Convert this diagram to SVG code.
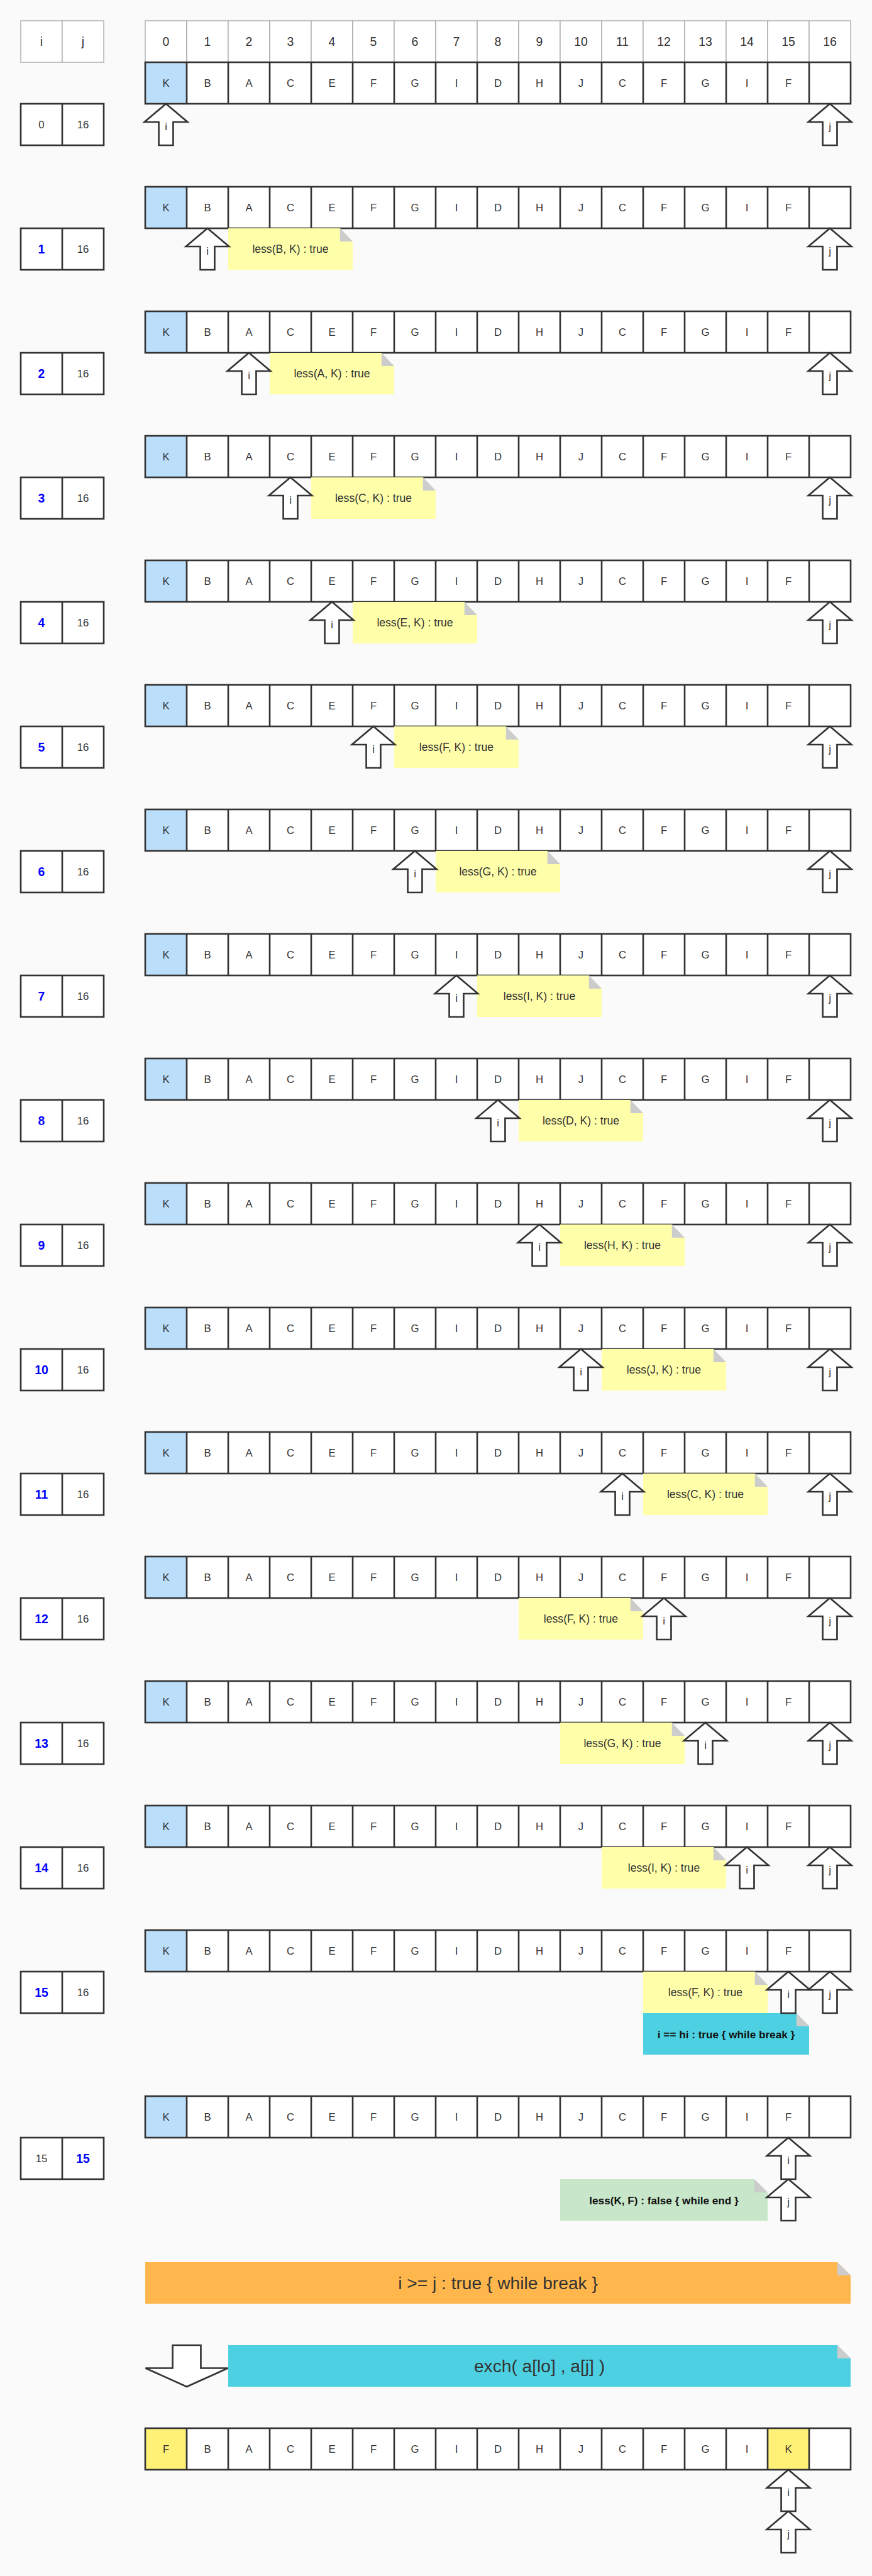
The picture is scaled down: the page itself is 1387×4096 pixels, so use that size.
<svg xmlns="http://www.w3.org/2000/svg" xmlns:xlink="http://www.w3.org/1999/xlink" width="1387" height="4096" viewBox="0 0 1387 4096">
<style>
text{font-family:"Liberation Sans",Arial,sans-serif;fill:#333;text-anchor:middle}
.c{font-size:19px}
.h{font-size:22px}
.n{font-size:20px}
.bn{font-size:22px;fill:#0000ff;font-weight:bold}
.k{font-size:19.5px;fill:#111;font-weight:bold}
.big{font-size:32px}
.cell{fill:#fff}
.kc{fill:#bbdefb}
.yc{fill:#fff176}
.hdr{fill:#fff;stroke:#a8a8a8;stroke-width:1.5}
</style>
<defs>
<g id="gl" fill="none" stroke="#333" stroke-width="3"><rect x="0" y="0" width="1275" height="75"/><path d="M75 0V75M150 0V75M225 0V75M300 0V75M375 0V75M450 0V75M525 0V75M600 0V75M675 0V75M750 0V75M825 0V75M900 0V75M975 0V75M1050 0V75M1125 0V75M1200 0V75"/></g>
<g id="ij" stroke="#333" stroke-width="3"><rect x="0" y="0" width="150" height="75" fill="#fff"/><path d="M75 0V75"/></g>
<path id="up" d="M0 0L39 33H13V75H-13V33H-39Z" fill="#fff" stroke="#333" stroke-width="3"/>
<g id="ynote"><path d="M0 0H202L225 24V75H0Z" fill="#ffffaa"/><path d="M202 0V24H225Z" fill="#cccccc"/></g>
</defs>
<rect x="0" y="0" width="1387" height="4096" fill="#fafafa"/>
<g transform="scale(0.88)">
<g id="header">
<rect class="hdr" x="37.5" y="37.5" width="75" height="75"/><rect class="hdr" x="112.5" y="37.5" width="75" height="75"/>
<text class="h" x="75" y="83">i</text><text class="h" x="150" y="83">j</text>
<g class="hdr"><rect x="262.5" y="37.5" width="75" height="75"/><rect x="337.5" y="37.5" width="75" height="75"/><rect x="412.5" y="37.5" width="75" height="75"/><rect x="487.5" y="37.5" width="75" height="75"/><rect x="562.5" y="37.5" width="75" height="75"/><rect x="637.5" y="37.5" width="75" height="75"/><rect x="712.5" y="37.5" width="75" height="75"/><rect x="787.5" y="37.5" width="75" height="75"/><rect x="862.5" y="37.5" width="75" height="75"/><rect x="937.5" y="37.5" width="75" height="75"/><rect x="1012.5" y="37.5" width="75" height="75"/><rect x="1087.5" y="37.5" width="75" height="75"/><rect x="1162.5" y="37.5" width="75" height="75"/><rect x="1237.5" y="37.5" width="75" height="75"/><rect x="1312.5" y="37.5" width="75" height="75"/><rect x="1387.5" y="37.5" width="75" height="75"/><rect x="1462.5" y="37.5" width="75" height="75"/></g>
<text class="h" y="83"><tspan x="300">0</tspan><tspan x="375">1</tspan><tspan x="450">2</tspan><tspan x="525">3</tspan><tspan x="600">4</tspan><tspan x="675">5</tspan><tspan x="750">6</tspan><tspan x="825">7</tspan><tspan x="900">8</tspan><tspan x="975">9</tspan><tspan x="1050">10</tspan><tspan x="1125">11</tspan><tspan x="1200">12</tspan><tspan x="1275">13</tspan><tspan x="1350">14</tspan><tspan x="1425">15</tspan><tspan x="1500">16</tspan></text>
</g>

<g id="row-0">
<rect class="cell" x="262.5" y="112.5" width="1275" height="75"/><rect class="kc" x="262.5" y="112.5" width="75" height="75"/><use xlink:href="#gl" x="262.5" y="112.5"/>
<text class="c" y="156.5"><tspan x="300">K</tspan><tspan x="375">B</tspan><tspan x="450">A</tspan><tspan x="525">C</tspan><tspan x="600">E</tspan><tspan x="675">F</tspan><tspan x="750">G</tspan><tspan x="825">I</tspan><tspan x="900">D</tspan><tspan x="975">H</tspan><tspan x="1050">J</tspan><tspan x="1125">C</tspan><tspan x="1200">F</tspan><tspan x="1275">G</tspan><tspan x="1350">I</tspan><tspan x="1425">F</tspan></text>
<use xlink:href="#ij" x="37.5" y="187.5"/><text class="c" x="75" y="231.8">0</text><text class="c" x="150" y="231.8">16</text>
</g>

<g id="row-1">
<rect class="cell" x="262.5" y="337.5" width="1275" height="75"/><rect class="kc" x="262.5" y="337.5" width="75" height="75"/><use xlink:href="#gl" x="262.5" y="337.5"/>
<text class="c" y="381.5"><tspan x="300">K</tspan><tspan x="375">B</tspan><tspan x="450">A</tspan><tspan x="525">C</tspan><tspan x="600">E</tspan><tspan x="675">F</tspan><tspan x="750">G</tspan><tspan x="825">I</tspan><tspan x="900">D</tspan><tspan x="975">H</tspan><tspan x="1050">J</tspan><tspan x="1125">C</tspan><tspan x="1200">F</tspan><tspan x="1275">G</tspan><tspan x="1350">I</tspan><tspan x="1425">F</tspan></text>
<use xlink:href="#ij" x="37.5" y="412.5"/><text class="bn" x="75" y="457.9">1</text><text class="c" x="150" y="456.8">16</text>
<use xlink:href="#ynote" x="412.5" y="412.5"/><text class="n" x="525" y="457">less(B, K) : true</text>
</g>

<g id="row-2">
<rect class="cell" x="262.5" y="562.5" width="1275" height="75"/><rect class="kc" x="262.5" y="562.5" width="75" height="75"/><use xlink:href="#gl" x="262.5" y="562.5"/>
<text class="c" y="606.5"><tspan x="300">K</tspan><tspan x="375">B</tspan><tspan x="450">A</tspan><tspan x="525">C</tspan><tspan x="600">E</tspan><tspan x="675">F</tspan><tspan x="750">G</tspan><tspan x="825">I</tspan><tspan x="900">D</tspan><tspan x="975">H</tspan><tspan x="1050">J</tspan><tspan x="1125">C</tspan><tspan x="1200">F</tspan><tspan x="1275">G</tspan><tspan x="1350">I</tspan><tspan x="1425">F</tspan></text>
<use xlink:href="#ij" x="37.5" y="637.5"/><text class="bn" x="75" y="682.9">2</text><text class="c" x="150" y="681.8">16</text>
<use xlink:href="#ynote" x="487.5" y="637.5"/><text class="n" x="600" y="682">less(A, K) : true</text>
</g>

<g id="row-3">
<rect class="cell" x="262.5" y="787.5" width="1275" height="75"/><rect class="kc" x="262.5" y="787.5" width="75" height="75"/><use xlink:href="#gl" x="262.5" y="787.5"/>
<text class="c" y="831.5"><tspan x="300">K</tspan><tspan x="375">B</tspan><tspan x="450">A</tspan><tspan x="525">C</tspan><tspan x="600">E</tspan><tspan x="675">F</tspan><tspan x="750">G</tspan><tspan x="825">I</tspan><tspan x="900">D</tspan><tspan x="975">H</tspan><tspan x="1050">J</tspan><tspan x="1125">C</tspan><tspan x="1200">F</tspan><tspan x="1275">G</tspan><tspan x="1350">I</tspan><tspan x="1425">F</tspan></text>
<use xlink:href="#ij" x="37.5" y="862.5"/><text class="bn" x="75" y="907.9">3</text><text class="c" x="150" y="906.8">16</text>
<use xlink:href="#ynote" x="562.5" y="862.5"/><text class="n" x="675" y="907">less(C, K) : true</text>
</g>

<g id="row-4">
<rect class="cell" x="262.5" y="1012.5" width="1275" height="75"/><rect class="kc" x="262.5" y="1012.5" width="75" height="75"/><use xlink:href="#gl" x="262.5" y="1012.5"/>
<text class="c" y="1056.5"><tspan x="300">K</tspan><tspan x="375">B</tspan><tspan x="450">A</tspan><tspan x="525">C</tspan><tspan x="600">E</tspan><tspan x="675">F</tspan><tspan x="750">G</tspan><tspan x="825">I</tspan><tspan x="900">D</tspan><tspan x="975">H</tspan><tspan x="1050">J</tspan><tspan x="1125">C</tspan><tspan x="1200">F</tspan><tspan x="1275">G</tspan><tspan x="1350">I</tspan><tspan x="1425">F</tspan></text>
<use xlink:href="#ij" x="37.5" y="1087.5"/><text class="bn" x="75" y="1132.9">4</text><text class="c" x="150" y="1131.8">16</text>
<use xlink:href="#ynote" x="637.5" y="1087.5"/><text class="n" x="750" y="1132">less(E, K) : true</text>
</g>

<g id="row-5">
<rect class="cell" x="262.5" y="1237.5" width="1275" height="75"/><rect class="kc" x="262.5" y="1237.5" width="75" height="75"/><use xlink:href="#gl" x="262.5" y="1237.5"/>
<text class="c" y="1281.5"><tspan x="300">K</tspan><tspan x="375">B</tspan><tspan x="450">A</tspan><tspan x="525">C</tspan><tspan x="600">E</tspan><tspan x="675">F</tspan><tspan x="750">G</tspan><tspan x="825">I</tspan><tspan x="900">D</tspan><tspan x="975">H</tspan><tspan x="1050">J</tspan><tspan x="1125">C</tspan><tspan x="1200">F</tspan><tspan x="1275">G</tspan><tspan x="1350">I</tspan><tspan x="1425">F</tspan></text>
<use xlink:href="#ij" x="37.5" y="1312.5"/><text class="bn" x="75" y="1357.9">5</text><text class="c" x="150" y="1356.8">16</text>
<use xlink:href="#ynote" x="712.5" y="1312.5"/><text class="n" x="825" y="1357">less(F, K) : true</text>
</g>

<g id="row-6">
<rect class="cell" x="262.5" y="1462.5" width="1275" height="75"/><rect class="kc" x="262.5" y="1462.5" width="75" height="75"/><use xlink:href="#gl" x="262.5" y="1462.5"/>
<text class="c" y="1506.5"><tspan x="300">K</tspan><tspan x="375">B</tspan><tspan x="450">A</tspan><tspan x="525">C</tspan><tspan x="600">E</tspan><tspan x="675">F</tspan><tspan x="750">G</tspan><tspan x="825">I</tspan><tspan x="900">D</tspan><tspan x="975">H</tspan><tspan x="1050">J</tspan><tspan x="1125">C</tspan><tspan x="1200">F</tspan><tspan x="1275">G</tspan><tspan x="1350">I</tspan><tspan x="1425">F</tspan></text>
<use xlink:href="#ij" x="37.5" y="1537.5"/><text class="bn" x="75" y="1582.9">6</text><text class="c" x="150" y="1581.8">16</text>
<use xlink:href="#ynote" x="787.5" y="1537.5"/><text class="n" x="900" y="1582">less(G, K) : true</text>
</g>

<g id="row-7">
<rect class="cell" x="262.5" y="1687.5" width="1275" height="75"/><rect class="kc" x="262.5" y="1687.5" width="75" height="75"/><use xlink:href="#gl" x="262.5" y="1687.5"/>
<text class="c" y="1731.5"><tspan x="300">K</tspan><tspan x="375">B</tspan><tspan x="450">A</tspan><tspan x="525">C</tspan><tspan x="600">E</tspan><tspan x="675">F</tspan><tspan x="750">G</tspan><tspan x="825">I</tspan><tspan x="900">D</tspan><tspan x="975">H</tspan><tspan x="1050">J</tspan><tspan x="1125">C</tspan><tspan x="1200">F</tspan><tspan x="1275">G</tspan><tspan x="1350">I</tspan><tspan x="1425">F</tspan></text>
<use xlink:href="#ij" x="37.5" y="1762.5"/><text class="bn" x="75" y="1807.9">7</text><text class="c" x="150" y="1806.8">16</text>
<use xlink:href="#ynote" x="862.5" y="1762.5"/><text class="n" x="975" y="1807">less(I, K) : true</text>
</g>

<g id="row-8">
<rect class="cell" x="262.5" y="1912.5" width="1275" height="75"/><rect class="kc" x="262.5" y="1912.5" width="75" height="75"/><use xlink:href="#gl" x="262.5" y="1912.5"/>
<text class="c" y="1956.5"><tspan x="300">K</tspan><tspan x="375">B</tspan><tspan x="450">A</tspan><tspan x="525">C</tspan><tspan x="600">E</tspan><tspan x="675">F</tspan><tspan x="750">G</tspan><tspan x="825">I</tspan><tspan x="900">D</tspan><tspan x="975">H</tspan><tspan x="1050">J</tspan><tspan x="1125">C</tspan><tspan x="1200">F</tspan><tspan x="1275">G</tspan><tspan x="1350">I</tspan><tspan x="1425">F</tspan></text>
<use xlink:href="#ij" x="37.5" y="1987.5"/><text class="bn" x="75" y="2032.9">8</text><text class="c" x="150" y="2031.8">16</text>
<use xlink:href="#ynote" x="937.5" y="1987.5"/><text class="n" x="1050" y="2032">less(D, K) : true</text>
</g>

<g id="row-9">
<rect class="cell" x="262.5" y="2137.5" width="1275" height="75"/><rect class="kc" x="262.5" y="2137.5" width="75" height="75"/><use xlink:href="#gl" x="262.5" y="2137.5"/>
<text class="c" y="2181.5"><tspan x="300">K</tspan><tspan x="375">B</tspan><tspan x="450">A</tspan><tspan x="525">C</tspan><tspan x="600">E</tspan><tspan x="675">F</tspan><tspan x="750">G</tspan><tspan x="825">I</tspan><tspan x="900">D</tspan><tspan x="975">H</tspan><tspan x="1050">J</tspan><tspan x="1125">C</tspan><tspan x="1200">F</tspan><tspan x="1275">G</tspan><tspan x="1350">I</tspan><tspan x="1425">F</tspan></text>
<use xlink:href="#ij" x="37.5" y="2212.5"/><text class="bn" x="75" y="2257.9">9</text><text class="c" x="150" y="2256.8">16</text>
<use xlink:href="#ynote" x="1012.5" y="2212.5"/><text class="n" x="1125" y="2257">less(H, K) : true</text>
</g>

<g id="row-10">
<rect class="cell" x="262.5" y="2362.5" width="1275" height="75"/><rect class="kc" x="262.5" y="2362.5" width="75" height="75"/><use xlink:href="#gl" x="262.5" y="2362.5"/>
<text class="c" y="2406.5"><tspan x="300">K</tspan><tspan x="375">B</tspan><tspan x="450">A</tspan><tspan x="525">C</tspan><tspan x="600">E</tspan><tspan x="675">F</tspan><tspan x="750">G</tspan><tspan x="825">I</tspan><tspan x="900">D</tspan><tspan x="975">H</tspan><tspan x="1050">J</tspan><tspan x="1125">C</tspan><tspan x="1200">F</tspan><tspan x="1275">G</tspan><tspan x="1350">I</tspan><tspan x="1425">F</tspan></text>
<use xlink:href="#ij" x="37.5" y="2437.5"/><text class="bn" x="75" y="2482.9">10</text><text class="c" x="150" y="2481.8">16</text>
<use xlink:href="#ynote" x="1087.5" y="2437.5"/><text class="n" x="1200" y="2482">less(J, K) : true</text>
</g>

<g id="row-11">
<rect class="cell" x="262.5" y="2587.5" width="1275" height="75"/><rect class="kc" x="262.5" y="2587.5" width="75" height="75"/><use xlink:href="#gl" x="262.5" y="2587.5"/>
<text class="c" y="2631.5"><tspan x="300">K</tspan><tspan x="375">B</tspan><tspan x="450">A</tspan><tspan x="525">C</tspan><tspan x="600">E</tspan><tspan x="675">F</tspan><tspan x="750">G</tspan><tspan x="825">I</tspan><tspan x="900">D</tspan><tspan x="975">H</tspan><tspan x="1050">J</tspan><tspan x="1125">C</tspan><tspan x="1200">F</tspan><tspan x="1275">G</tspan><tspan x="1350">I</tspan><tspan x="1425">F</tspan></text>
<use xlink:href="#ij" x="37.5" y="2662.5"/><text class="bn" x="75" y="2707.9">11</text><text class="c" x="150" y="2706.8">16</text>
<use xlink:href="#ynote" x="1162.5" y="2662.5"/><text class="n" x="1275" y="2707">less(C, K) : true</text>
</g>

<g id="row-12">
<rect class="cell" x="262.5" y="2812.5" width="1275" height="75"/><rect class="kc" x="262.5" y="2812.5" width="75" height="75"/><use xlink:href="#gl" x="262.5" y="2812.5"/>
<text class="c" y="2856.5"><tspan x="300">K</tspan><tspan x="375">B</tspan><tspan x="450">A</tspan><tspan x="525">C</tspan><tspan x="600">E</tspan><tspan x="675">F</tspan><tspan x="750">G</tspan><tspan x="825">I</tspan><tspan x="900">D</tspan><tspan x="975">H</tspan><tspan x="1050">J</tspan><tspan x="1125">C</tspan><tspan x="1200">F</tspan><tspan x="1275">G</tspan><tspan x="1350">I</tspan><tspan x="1425">F</tspan></text>
<use xlink:href="#ij" x="37.5" y="2887.5"/><text class="bn" x="75" y="2932.9">12</text><text class="c" x="150" y="2931.8">16</text>
<use xlink:href="#ynote" x="937.5" y="2887.5"/><text class="n" x="1050" y="2932">less(F, K) : true</text>
</g>

<g id="row-13">
<rect class="cell" x="262.5" y="3037.5" width="1275" height="75"/><rect class="kc" x="262.5" y="3037.5" width="75" height="75"/><use xlink:href="#gl" x="262.5" y="3037.5"/>
<text class="c" y="3081.5"><tspan x="300">K</tspan><tspan x="375">B</tspan><tspan x="450">A</tspan><tspan x="525">C</tspan><tspan x="600">E</tspan><tspan x="675">F</tspan><tspan x="750">G</tspan><tspan x="825">I</tspan><tspan x="900">D</tspan><tspan x="975">H</tspan><tspan x="1050">J</tspan><tspan x="1125">C</tspan><tspan x="1200">F</tspan><tspan x="1275">G</tspan><tspan x="1350">I</tspan><tspan x="1425">F</tspan></text>
<use xlink:href="#ij" x="37.5" y="3112.5"/><text class="bn" x="75" y="3157.9">13</text><text class="c" x="150" y="3156.8">16</text>
<use xlink:href="#ynote" x="1012.5" y="3112.5"/><text class="n" x="1125" y="3157">less(G, K) : true</text>
</g>

<g id="row-14">
<rect class="cell" x="262.5" y="3262.5" width="1275" height="75"/><rect class="kc" x="262.5" y="3262.5" width="75" height="75"/><use xlink:href="#gl" x="262.5" y="3262.5"/>
<text class="c" y="3306.5"><tspan x="300">K</tspan><tspan x="375">B</tspan><tspan x="450">A</tspan><tspan x="525">C</tspan><tspan x="600">E</tspan><tspan x="675">F</tspan><tspan x="750">G</tspan><tspan x="825">I</tspan><tspan x="900">D</tspan><tspan x="975">H</tspan><tspan x="1050">J</tspan><tspan x="1125">C</tspan><tspan x="1200">F</tspan><tspan x="1275">G</tspan><tspan x="1350">I</tspan><tspan x="1425">F</tspan></text>
<use xlink:href="#ij" x="37.5" y="3337.5"/><text class="bn" x="75" y="3382.9">14</text><text class="c" x="150" y="3381.8">16</text>
<use xlink:href="#ynote" x="1087.5" y="3337.5"/><text class="n" x="1200" y="3382">less(I, K) : true</text>
</g>

<g id="row-15">
<rect class="cell" x="262.5" y="3487.5" width="1275" height="75"/><rect class="kc" x="262.5" y="3487.5" width="75" height="75"/><use xlink:href="#gl" x="262.5" y="3487.5"/>
<text class="c" y="3531.5"><tspan x="300">K</tspan><tspan x="375">B</tspan><tspan x="450">A</tspan><tspan x="525">C</tspan><tspan x="600">E</tspan><tspan x="675">F</tspan><tspan x="750">G</tspan><tspan x="825">I</tspan><tspan x="900">D</tspan><tspan x="975">H</tspan><tspan x="1050">J</tspan><tspan x="1125">C</tspan><tspan x="1200">F</tspan><tspan x="1275">G</tspan><tspan x="1350">I</tspan><tspan x="1425">F</tspan></text>
<use xlink:href="#ij" x="37.5" y="3562.5"/><text class="bn" x="75" y="3607.9">15</text><text class="c" x="150" y="3606.8">16</text>
<use xlink:href="#ynote" x="1162.5" y="3562.5"/><text class="n" x="1275" y="3607">less(F, K) : true</text>
<path d="M1162.5 3637.5H1439.5L1462.5 3661.5V3712.5H1162.5Z" fill="#4dd0e1"/><path d="M1439.5 3637.5V3661.5H1462.5Z" fill="#cccccc"/>
<text class="k" x="1312.5" y="3682.5">i == hi : true { while break }</text>
</g>

<g id="row-16">
<rect class="cell" x="262.5" y="3787.5" width="1275" height="75"/><rect class="kc" x="262.5" y="3787.5" width="75" height="75"/><use xlink:href="#gl" x="262.5" y="3787.5"/>
<text class="c" y="3831.5"><tspan x="300">K</tspan><tspan x="375">B</tspan><tspan x="450">A</tspan><tspan x="525">C</tspan><tspan x="600">E</tspan><tspan x="675">F</tspan><tspan x="750">G</tspan><tspan x="825">I</tspan><tspan x="900">D</tspan><tspan x="975">H</tspan><tspan x="1050">J</tspan><tspan x="1125">C</tspan><tspan x="1200">F</tspan><tspan x="1275">G</tspan><tspan x="1350">I</tspan><tspan x="1425">F</tspan></text>
<use xlink:href="#ij" x="37.5" y="3862.5"/><text class="c" x="75" y="3906.8">15</text><text class="bn" x="150" y="3907.9">15</text>
<path d="M1012.5 3937.5H1363.5L1387.5 3961.5V4012.5H1012.5Z" fill="#c8e6c9"/><path d="M1363.5 3937.5V3961.5H1387.5Z" fill="#cccccc"/>
<text class="k" x="1200" y="3982.5">less(K, F) : false { while end }</text>
</g>

<g id="while-break">
<path d="M262.5 4087.5H1513.5L1537.5 4111.5V4162.5H262.5Z" fill="#ffb74d"/><path d="M1513.5 4087.5V4111.5H1537.5Z" fill="#cccccc"/>
<text class="big" x="900" y="4136.5">i &gt;= j : true { while break }</text>
</g>

<g id="exch">
<path d="M412.5 4237.5H1513.5L1537.5 4261.5V4312.5H412.5Z" fill="#4dd0e1"/><path d="M1513.5 4237.5V4261.5H1537.5Z" fill="#cccccc"/>
<text class="big" x="975" y="4286.5">exch( a[lo] , a[j] )</text>
</g>

<g id="row-final">
<rect class="cell" x="262.5" y="4387.5" width="1275" height="75"/><rect class="yc" x="262.5" y="4387.5" width="75" height="75"/><rect class="yc" x="1387.5" y="4387.5" width="75" height="75"/><use xlink:href="#gl" x="262.5" y="4387.5"/>
<text class="c" y="4431.5"><tspan x="300">F</tspan><tspan x="375">B</tspan><tspan x="450">A</tspan><tspan x="525">C</tspan><tspan x="600">E</tspan><tspan x="675">F</tspan><tspan x="750">G</tspan><tspan x="825">I</tspan><tspan x="900">D</tspan><tspan x="975">H</tspan><tspan x="1050">J</tspan><tspan x="1125">C</tspan><tspan x="1200">F</tspan><tspan x="1275">G</tspan><tspan x="1350">I</tspan><tspan x="1425">K</tspan></text>
</g>

<g id="pointers">
<path d="M312 4237.5H363V4279H412L337.5 4312.5L263 4279H312Z" fill="#fff" stroke="#333" stroke-width="3"/>
<use xlink:href="#up" x="300" y="187.5"/><text class="c" x="300" y="235.5">i</text>
<use xlink:href="#up" x="1500" y="187.5"/><text class="c" x="1500" y="235.5">j</text>
<use xlink:href="#up" x="375" y="412.5"/><text class="c" x="375" y="460.5">i</text>
<use xlink:href="#up" x="1500" y="412.5"/><text class="c" x="1500" y="460.5">j</text>
<use xlink:href="#up" x="450" y="637.5"/><text class="c" x="450" y="685.5">i</text>
<use xlink:href="#up" x="1500" y="637.5"/><text class="c" x="1500" y="685.5">j</text>
<use xlink:href="#up" x="525" y="862.5"/><text class="c" x="525" y="910.5">i</text>
<use xlink:href="#up" x="1500" y="862.5"/><text class="c" x="1500" y="910.5">j</text>
<use xlink:href="#up" x="600" y="1087.5"/><text class="c" x="600" y="1135.5">i</text>
<use xlink:href="#up" x="1500" y="1087.5"/><text class="c" x="1500" y="1135.5">j</text>
<use xlink:href="#up" x="675" y="1312.5"/><text class="c" x="675" y="1360.5">i</text>
<use xlink:href="#up" x="1500" y="1312.5"/><text class="c" x="1500" y="1360.5">j</text>
<use xlink:href="#up" x="750" y="1537.5"/><text class="c" x="750" y="1585.5">i</text>
<use xlink:href="#up" x="1500" y="1537.5"/><text class="c" x="1500" y="1585.5">j</text>
<use xlink:href="#up" x="825" y="1762.5"/><text class="c" x="825" y="1810.5">i</text>
<use xlink:href="#up" x="1500" y="1762.5"/><text class="c" x="1500" y="1810.5">j</text>
<use xlink:href="#up" x="900" y="1987.5"/><text class="c" x="900" y="2035.5">i</text>
<use xlink:href="#up" x="1500" y="1987.5"/><text class="c" x="1500" y="2035.5">j</text>
<use xlink:href="#up" x="975" y="2212.5"/><text class="c" x="975" y="2260.5">i</text>
<use xlink:href="#up" x="1500" y="2212.5"/><text class="c" x="1500" y="2260.5">j</text>
<use xlink:href="#up" x="1050" y="2437.5"/><text class="c" x="1050" y="2485.5">i</text>
<use xlink:href="#up" x="1500" y="2437.5"/><text class="c" x="1500" y="2485.5">j</text>
<use xlink:href="#up" x="1125" y="2662.5"/><text class="c" x="1125" y="2710.5">i</text>
<use xlink:href="#up" x="1500" y="2662.5"/><text class="c" x="1500" y="2710.5">j</text>
<use xlink:href="#up" x="1200" y="2887.5"/><text class="c" x="1200" y="2935.5">i</text>
<use xlink:href="#up" x="1500" y="2887.5"/><text class="c" x="1500" y="2935.5">j</text>
<use xlink:href="#up" x="1275" y="3112.5"/><text class="c" x="1275" y="3160.5">i</text>
<use xlink:href="#up" x="1500" y="3112.5"/><text class="c" x="1500" y="3160.5">j</text>
<use xlink:href="#up" x="1350" y="3337.5"/><text class="c" x="1350" y="3385.5">i</text>
<use xlink:href="#up" x="1500" y="3337.5"/><text class="c" x="1500" y="3385.5">j</text>
<use xlink:href="#up" x="1425" y="3562.5"/><text class="c" x="1425" y="3610.5">i</text>
<use xlink:href="#up" x="1500" y="3562.5"/><text class="c" x="1500" y="3610.5">j</text>
<use xlink:href="#up" x="1425" y="3862.5"/><text class="c" x="1425" y="3910.5">i</text>
<use xlink:href="#up" x="1425" y="3937.5"/><text class="c" x="1425" y="3985.5">j</text>
<use xlink:href="#up" x="1425" y="4462.5"/><text class="c" x="1425" y="4510.5">i</text>
<use xlink:href="#up" x="1425" y="4537.5"/><text class="c" x="1425" y="4585.5">j</text>
</g>
</g>
</svg>
